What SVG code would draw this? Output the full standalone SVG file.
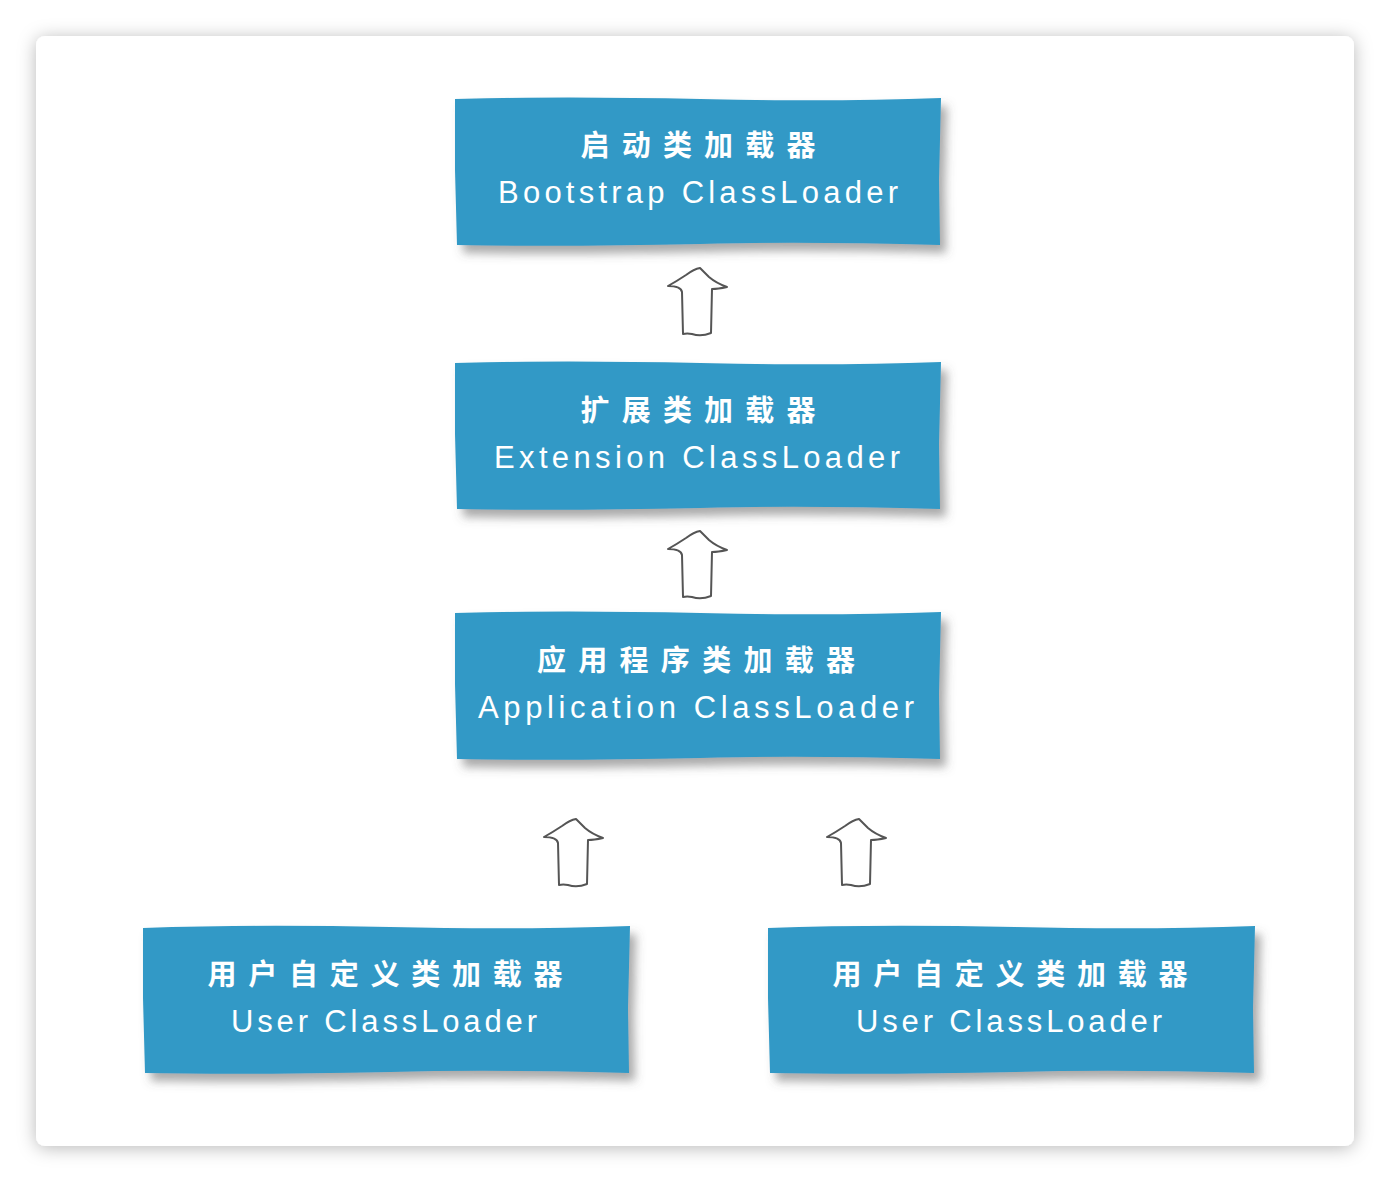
<svg xmlns="http://www.w3.org/2000/svg" xmlns:xlink="http://www.w3.org/1999/xlink" width="1390" height="1182" viewBox="0 0 1390 1182">
<defs>
<filter id="card" x="-5%" y="-5%" width="110%" height="110%">
<feDropShadow dx="0" dy="2" stdDeviation="9" flood-color="#000" flood-opacity="0.28"/>
</filter>
<filter id="sh" x="-5%" y="-10%" width="115%" height="135%">
<feDropShadow dx="6" dy="8" stdDeviation="5" flood-color="#555" flood-opacity="0.5"/>
</filter>
<path id="arrow" d="M -14 66 L -15 24 Q -16 18 -29 18 Q -20 13 -11 7 Q -3 1 3 0 Q 7 4 12 9 Q 19 15 30 19 Q 21 21 15 21 L 14 65 Q 4 69 -5 66 Q -10 65 -14 66 Z"/>
<style>
.box{fill:#3199c6;filter:url(#sh);}
.zh{font-family:"Noto Sans CJK SC","Noto Sans",sans-serif;font-size:29px;font-weight:bold;fill:#fff;text-anchor:middle;}
.en{font-family:"Liberation Sans","DejaVu Sans",sans-serif;font-size:31px;fill:#fff;text-anchor:middle;}
.arr{fill:#fff;stroke:#555;stroke-width:2;stroke-linejoin:round;}
</style>
</defs>
<rect width="1390" height="1182" fill="#ffffff"/>
<rect x="36" y="36" width="1318" height="1110" rx="9" fill="#fff" filter="url(#card)"/>

<g id="connectors">
<use xlink:href="#arrow" x="697" y="268" class="arr"/>
<use xlink:href="#arrow" x="697" y="531" class="arr"/>
<use xlink:href="#arrow" x="573" y="819" class="arr"/>
<use xlink:href="#arrow" x="856" y="819" class="arr"/>
</g>

<g id="bootstrap">
<path class="box" d="M 455 99 Q 560 96 700 99 Q 830 102 941 98 L 939 180 L 940 245 Q 800 241 700 244 Q 560 247 457 245 L 455 170 Z"/>
<text class="zh" x="698" y="156" textLength="235" lengthAdjust="spacing">启动类加载器</text>
<text class="en" x="698" y="203" textLength="400" lengthAdjust="spacing">Bootstrap ClassLoader</text>
</g>

<g id="extension">
<path class="box" d="M 455 363 Q 560 360 700 363 Q 830 366 941 362 L 939 444 L 940 509 Q 800 505 700 508 Q 560 511 457 509 L 455 434 Z"/>
<text class="zh" x="698" y="421" textLength="235" lengthAdjust="spacing">扩展类加载器</text>
<text class="en" x="697" y="468" textLength="406" lengthAdjust="spacing">Extension ClassLoader</text>
</g>

<g id="application">
<path class="box" d="M 455 613 Q 560 610 700 613 Q 830 616 941 612 L 939 694 L 940 759 Q 800 755 700 758 Q 560 761 457 759 L 455 684 Z"/>
<text class="zh" x="696" y="671" textLength="318" lengthAdjust="spacing">应用程序类加载器</text>
<text class="en" x="696" y="718" textLength="436" lengthAdjust="spacing">Application ClassLoader</text>
</g>

<g id="user-left">
<path class="box" d="M 143 928 Q 250 924 390 927 Q 520 930 630 926 L 628 1008 L 629 1073 Q 490 1069 390 1072 Q 250 1075 145 1073 L 143 998 Z"/>
<text class="zh" x="385" y="985" textLength="355" lengthAdjust="spacing">用户自定义类加载器</text>
<text class="en" x="384" y="1032" textLength="306" lengthAdjust="spacing">User ClassLoader</text>
</g>

<g id="user-right">
<path class="box" d="M 768 928 Q 875 924 1015 927 Q 1145 930 1255 926 L 1253 1008 L 1254 1073 Q 1115 1069 1015 1072 Q 875 1075 770 1073 L 768 998 Z"/>
<text class="zh" x="1010" y="985" textLength="355" lengthAdjust="spacing">用户自定义类加载器</text>
<text class="en" x="1009" y="1032" textLength="306" lengthAdjust="spacing">User ClassLoader</text>
</g>
</svg>
